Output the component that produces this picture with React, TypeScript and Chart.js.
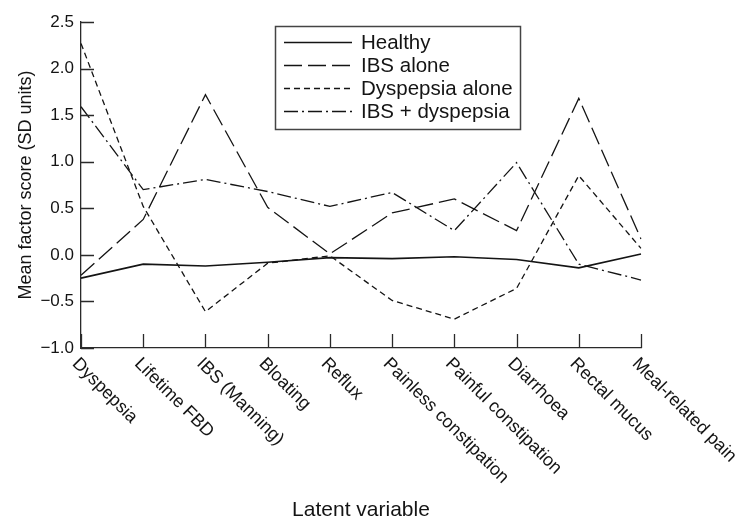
import React, { useEffect, useRef } from 'react';
import { Chart, registerables } from 'chart.js';

Chart.register(...registerables);

const categories = [
  'Dyspepsia',
  'Lifetime FBD',
  'IBS (Manning)',
  'Bloating',
  'Reflux',
  'Painless constipation',
  'Painful constipation',
  'Diarrhoea',
  'Rectal mucus',
  'Meal-related pain',
];

const healthy = [-0.25, -0.1, -0.12, -0.08, -0.03, -0.04, -0.02, -0.05, -0.14, 0.01];
const ibsAlone = [-0.22, 0.38, 1.72, 0.51, 0.01, 0.45, 0.6, 0.26, 1.68, 0.17];
const dyspepsiaAlone = [2.27, 0.52, -0.61, -0.09, -0.01, -0.49, -0.69, -0.36, 0.85, 0.07];
const ibsDyspepsia = [1.59, 0.7, 0.81, 0.68, 0.52, 0.67, 0.26, 0.99, -0.1, -0.27];

const seriesNames = ['Healthy', 'IBS alone', 'Dyspepsia alone', 'IBS + dyspepsia'];
const yTicks = [-1, -0.5, 0, 0.5, 1, 1.5, 2, 2.5];
const xTitle = 'Latent variable';
const yTitle = 'Mean factor score (SD units)';

const FONT = '"Liberation Sans", Arial, Helvetica, sans-serif';
const INK = '#141414';
const AXIS = '#2a2a2a';

export default function App() {
  const ref = useRef<HTMLCanvasElement>(null);

  useEffect(() => {
    const canvas = ref.current;
    if (!canvas) return;

    const dashes: number[][] = [[], [18, 6], [6, 4], [14, 4, 2, 4]];
    const widths = [1.6, 1.3, 1.3, 1.3];
    const values = [healthy, ibsAlone, dyspepsiaAlone, ibsDyspepsia];

    const decor = {
      id: 'decor',
      afterDraw(chart: any) {
        const { ctx, chartArea, scales } = chart;
        const xs = scales.x;
        const ys = scales.y;
        ctx.save();
        // inside tick marks
        ctx.strokeStyle = AXIS;
        ctx.lineWidth = 1.3;
        ctx.setLineDash([]);
        ctx.beginPath();
        categories.forEach((_, i) => {
          const px = Math.round(xs.getPixelForValue(i)) + 0.5;
          ctx.moveTo(px, chartArea.bottom);
          ctx.lineTo(px, chartArea.bottom - 14);
        });
        yTicks.forEach((v) => {
          const py = Math.round(ys.getPixelForValue(v)) + 0.5;
          ctx.moveTo(chartArea.left, py);
          ctx.lineTo(chartArea.left + 13, py);
        });
        ctx.stroke();

        // rotated category labels
        ctx.fillStyle = INK;
        ctx.font = `18px ${FONT}`;
        ctx.textAlign = 'left';
        ctx.textBaseline = 'middle';
        categories.forEach((c, i) => {
          const px = xs.getPixelForValue(i);
          ctx.save();
          ctx.translate(px - 6, chartArea.bottom + 13);
          ctx.rotate(Math.PI / 4);
          ctx.fillText(c, 0, 0);
          ctx.restore();
        });

        // legend box
        const bx = 275.5;
        const by = 26.5;
        const bw = 245;
        const bh = 103;
        ctx.fillStyle = '#fff';
        ctx.fillRect(bx, by, bw, bh);
        ctx.strokeStyle = '#444';
        ctx.lineWidth = 1.5;
        ctx.strokeRect(bx, by, bw, bh);
        ctx.font = `20.5px ${FONT}`;
        ctx.textBaseline = 'middle';
        chart.data.datasets.forEach((ds: any, i: number) => {
          const ly = 42.5 + i * 23;
          ctx.strokeStyle = INK;
          ctx.lineWidth = ds.borderWidth;
          ctx.setLineDash(ds.borderDash || []);
          ctx.beginPath();
          ctx.moveTo(284, ly);
          ctx.lineTo(352, ly);
          ctx.stroke();
          ctx.setLineDash([]);
          ctx.fillStyle = INK;
          ctx.fillText(ds.label, 361, ly + 1);
        });
        ctx.restore();
      },
    };

    const chart = new Chart(canvas, {
      type: 'line',
      data: {
        labels: categories,
        datasets: seriesNames.map((name, i) => ({
          label: name,
          data: values[i],
          borderColor: INK,
          borderWidth: widths[i],
          borderDash: dashes[i],
          pointRadius: 0,
          tension: 0,
          fill: false,
        })),
      },
      options: {
        animation: false,
        responsive: false,
        devicePixelRatio: 1,
        layout: { padding: { top: 22, right: 100, bottom: 0, left: 0 } },
        plugins: {
          legend: { display: false },
          tooltip: { enabled: false },
        },
        scales: {
          x: {
            type: 'category',
            offset: false,
            grid: { display: false, drawTicks: false },
            border: { display: true, color: AXIS, width: 1.3 },
            ticks: { display: false },
            title: {
              display: true,
              text: xTitle,
              color: INK,
              font: { family: FONT, size: 21 },
              padding: { top: 0, bottom: 0 },
            },
            afterFit: (s: any) => {
              s.height = 175;
            },
          },
          y: {
            min: -1,
            max: 2.5,
            grid: { display: false, drawTicks: false },
            border: { display: true, color: AXIS, width: 1.3 },
            ticks: {
              stepSize: 0.5,
              color: INK,
              padding: 7,
              font: { family: FONT, size: 17 },
              callback: (v: any) => {
                const n = Number(v);
                const s = Math.abs(n).toFixed(1);
                return n < 0 ? '\u2212' + s : s;
              },
            },
            title: {
              display: true,
              text: yTitle,
              color: INK,
              font: { family: FONT, size: 18 },
              padding: { top: 15, bottom: 0 },
            },
            afterFit: (s: any) => {
              s.width = 81;
            },
          },
        },
      },
      plugins: [decor],
    });

    return () => chart.destroy();
  }, []);

  return (
    <div style={{ position: 'fixed', left: 0, top: 0, width: 741, height: 523, background: '#fff' }}>
      <canvas ref={ref} width={741} height={523} style={{ display: 'block', width: 741, height: 523 }} />
    </div>
  );
}
